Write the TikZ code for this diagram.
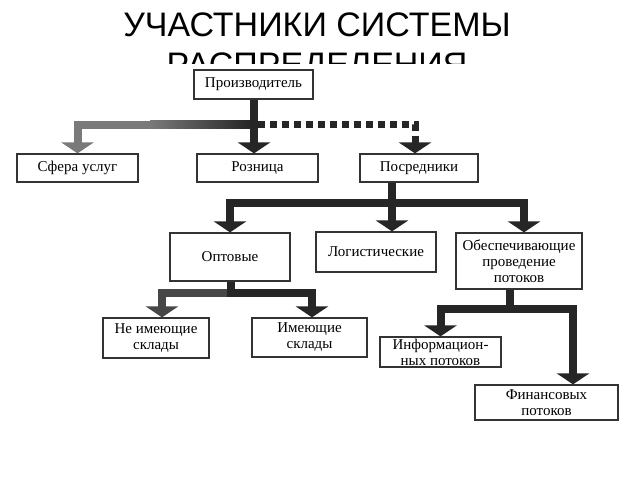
\documentclass[tikz,border=0pt]{standalone}
\usepackage{fontspec}
\setmainfont{Liberation Serif}
\newfontfamily\titlefont{Liberation Sans}
\usetikzlibrary{arrows.meta}
\definecolor{ink}{HTML}{262626}
\definecolor{edge}{HTML}{333333}
\definecolor{soft}{HTML}{7a7a7a}
\begin{document}
\begin{tikzpicture}[x=1pt,y=-1pt,
  box/.style={draw=edge, line width=1.2pt, fill=white, inner sep=0pt, align=center,
    font=\fontsize{15}{16}\selectfont},
  conn/.style={line width=8pt, draw=ink, -{Triangle[width=32pt,length=11pt]}},
  dconn/.style={line width=7pt, draw=ink, dash pattern=on 7pt off 5pt, -{Triangle[width=32pt,length=11pt]}},
  ttl/.style={font=\titlefont\fontsize{34}{40}\selectfont, inner sep=0pt, anchor=base}
]
\useasboundingbox (0,0) rectangle (640,480);
\fill[white] (0,0) rectangle (640,480);
% title (second line cut off by the picture below)
\begin{scope}
  \clip (0,0) rectangle (640,63);
  \node[ttl] (t1) at (317,36) {УЧАСТНИКИ СИСТЕМЫ};
  \node[ttl, anchor=center] (t2) at (317,63) {\raisebox{-13pt}[0pt][0pt]{РАСПРЕДЕЛЕНИЯ}};
\end{scope}
% boxes
\node[box, minimum width=119pt, minimum height=29pt] (prod) at (253.5,84.5) {Производитель};
\node[box, minimum width=121pt, minimum height=28pt] (sfera) at (77.5,168) {Сфера услуг};
\node[box, minimum width=121pt, minimum height=28pt] (rozn) at (257.5,168) {Розница};
\node[box, minimum width=118pt, minimum height=28pt] (posr) at (419,168) {Посредники};
\node[box, minimum width=120pt, minimum height=48pt] (opt) at (230,257) {Оптовые};
\node[box, minimum width=120pt, minimum height=40pt] (log) at (376,252) {Логистические};
\node[box, minimum width=126pt, minimum height=56pt] (obes) at (519,261) {Обеспечивающие\\проведение\\потоков};
\node[box, minimum width=106pt, minimum height=40pt] (neim) at (156,338) {Не имеющие\\склады};
\node[box, minimum width=115pt, minimum height=39pt] (imeu) at (309.5,337.5) {Имеющие\\склады};
\node[box, minimum width=121pt, minimum height=30pt] (info) at (440.5,352) {Информацион-\\ных потоков};
\node[box, minimum width=143pt, minimum height=35pt] (fin) at (546.5,402.5) {Финансовых\\потоков};
% junctions
\coordinate (j1) at (254,124.5);
\coordinate (j2) at (392,202.5);
\coordinate (j3) at (231,292.5);
\coordinate (j4) at (510,309);
% connectors
\draw[conn, draw=soft] (j1) -| (sfera.north);
\shade[left color=soft, right color=ink] (150,120.5) rectangle (250,128.5);
\draw[dconn] ([xshift=4pt]j1) -| ([xshift=-4pt]posr.north);
\draw[conn] (prod.south -| j1) -- (j1 |- rozn.north);
\draw[conn] (posr.south -| j2) -- (j2 |- log.north);
\draw[conn] (j2) -| (opt.north);
\draw[conn] (j2) -| ([xshift=5pt]obes.north);
\draw[conn, draw=black!72] (j3) -| ([xshift=6pt]neim.north);
\draw[conn] (opt.south -| j3) -- (j3) -| ([xshift=2.5pt]imeu.north);
\draw[conn] (j4) -| (info.north);
\draw[conn] (obes.south -| j4) -- (j4) -| ([xshift=26.5pt]fin.north);
\end{tikzpicture}
\end{document}
